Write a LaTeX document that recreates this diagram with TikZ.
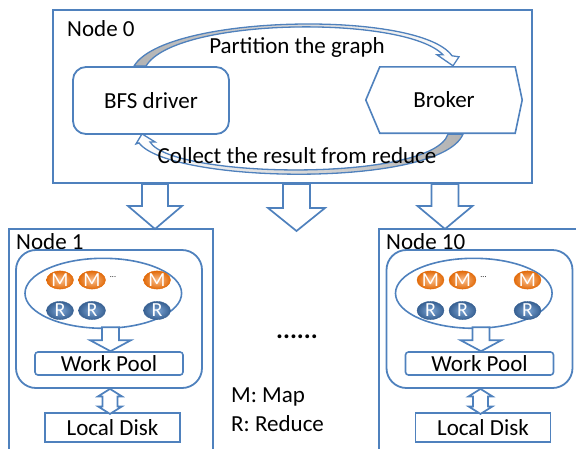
\documentclass[tikz,border=0pt]{standalone}
\usepackage{fontspec}
\setmainfont{Carlito}
\usetikzlibrary{shapes.geometric,positioning,calc}
\definecolor{boxblue}{RGB}{79,129,189}
\definecolor{mlight}{RGB}{250,190,140}
\definecolor{mdark}{RGB}{226,107,10}
\definecolor{rlight}{RGB}{125,165,212}
\definecolor{rdark}{RGB}{55,96,146}

\begin{document}
\begin{tikzpicture}[x=1pt,y=1pt,
  outer/.style={draw=boxblue, line width=2pt},
  roundbox/.style={draw=boxblue, line width=1.8pt, rounded corners=13pt},
  plainbox/.style={draw=boxblue, line width=1.6pt},
  band/.style={draw=boxblue, line width=1.3pt},
  blockline/.style={draw=boxblue, fill=white, line width=1.7pt, line join=miter},
  mjob/.style={ellipse, draw=mdark, inner color=mlight, outer color=mdark, minimum width=27, minimum height=16, text=white, font=\fontsize{20}{20}\selectfont},
  rjob/.style={ellipse, draw=rdark, inner color=rlight, outer color=rdark, minimum width=27, minimum height=16, text=white, font=\fontsize{20}{20}\selectfont}
]
\tikzstyle{every node}+=[inner sep=0pt, font=\fontsize{23}{27}\selectfont]
\useasboundingbox (0,0) rectangle (576,-448);
\clip (0,0) rectangle (576,-448);

% node 0
\node[outer, minimum width=479, minimum height=173] (n0) at (292.5,-96.5) {};
\node[anchor=west] (n0lbl) at (67,-29) {Node 0};
\node[roundbox, minimum width=156, minimum height=67] (bfs) at (151,-100.5) {BFS driver};
\node[minimum width=144, minimum height=66] (broker) at (444,-100) {Broker};
\draw[plainbox] ([xshift=-6pt]broker.west) -- ([xshift=8pt]broker.north west) -- ([xshift=-1pt]broker.north east)
  -- ([xshift=6pt]broker.east) -- ([xshift=-1pt]broker.south east) -- ([xshift=8pt]broker.south west) -- cycle;
\filldraw[band, left color=black!30, right color=white] ([xshift=-17pt]bfs.north) .. controls +(31,52) and +(-32,46) .. ($(broker.north)+(8,11)$)
  -- ($(broker.north)+(15,10)$) -- ($(broker.north)+(9,1)$) -- ($(broker.north)+(-7,12)$) -- ($(broker.north)+(-1,12)$)
  .. controls +(-38,40) and +(29,49) .. ([xshift=-5pt]bfs.north) -- cycle;
\filldraw[band, left color=white, right color=black!30] ($(broker.south)+(19,-1)$) .. controls +(-23,-54) and +(31,-41) .. ($(bfs.south)+(-12,-8)$)
  -- ($(bfs.south)+(-15,-9)$) -- ($(bfs.south)+(-9,1)$) -- ($(bfs.south)+(4,-7)$) -- ($(bfs.south)+(-1,-7)$)
  .. controls +(22,-37) and +(-16,-48) .. ($(broker.south)+(4,-1)$) -- cycle;
\node (part) at (297,-47) {Partition the graph};
\node (coll) at (297,-156) {Collect the result from reduce};

% arrows down from node 0
\draw[blockline] ([xshift=-150.5pt]n0.south) -- ++(0,-22) -- ++(-14,0) -- ++(27,-23) -- ++(27,23) -- ++(-14,0) -- ++(0,22) -- cycle;
\draw[blockline] ([xshift=-9.5pt]n0.south) -- ++(0,-24) -- ++(-15,0) -- ++(28.5,-23) -- ++(28.5,23) -- ++(-15,0) -- ++(0,24) -- cycle;
\draw[blockline] ([xshift=139pt]n0.south) -- ++(0,-22) -- ++(-14,0) -- ++(27.5,-23) -- ++(27.5,23) -- ++(-14,0) -- ++(0,22) -- cycle;

% node 1
\node[outer, minimum width=204, minimum height=240, anchor=north west] (n1) at (8,-228) {};
\node[anchor=west] (n1lbl) at (16,-242) {Node 1};
\node[roundbox, rounded corners=20pt, minimum width=186, minimum height=138] (grp1) at (109,-319) {};
\node[ellipse, draw=boxblue, line width=1.6pt, minimum width=156.6, minimum height=70] (jobs1) at (103.3,-293.3) {};
\node[mjob] (m11) at (60,-280) {M};
\node[mjob] (m12) at (92,-280) {M};
\node[font=\fontsize{8}{8}\selectfont] (dots1) at (113,-277) {...};
\node[mjob] (m13) at (157,-280) {M};
\node[rjob] (r11) at (60,-310.5) {R};
\node[rjob] (r12) at (92,-310.5) {R};
\node[rjob] (r13) at (157,-310.5) {R};
\node[plainbox, rounded corners=3pt, minimum width=148, minimum height=23] (pool1) at (109,-363.5) {Work Pool};
\node[plainbox, minimum width=135, minimum height=29] (disk1) at (112.5,-427.5) {Local Disk};
\draw[blockline] ($(pool1.north)+(-7,24)$) -- ++(0,-13) -- ++(-12,0) -- ++(20.5,-11) -- ++(20.5,11) -- ++(-12,0) -- ++(0,13) -- cycle;
\draw[blockline] ([xshift=1pt]grp1.south) -- ++(12,-7.5) -- ++(-4.5,0) -- ++(0,-10) -- ++(4.5,0) -- ++(-12,-7.5)
  -- ++(-12,7.5) -- ++(4.5,0) -- ++(0,10) -- ++(-4.5,0) -- cycle;

% node 10
\node[outer, minimum width=204, minimum height=240, anchor=north west] (n10) at (378,-228) {};
\node[anchor=west] (n10lbl) at (386,-242) {Node 10};
\node[roundbox, rounded corners=20pt, minimum width=186, minimum height=138] (grp10) at (479.5,-319) {};
\node[ellipse, draw=boxblue, line width=1.6pt, minimum width=156.6, minimum height=70] (jobs10) at (473.8,-293.3) {};
\node[mjob] (m101) at (430.5,-280) {M};
\node[mjob] (m102) at (462.5,-280) {M};
\node[font=\fontsize{8}{8}\selectfont] (dots10) at (483.5,-277) {...};
\node[mjob] (m103) at (527.5,-280) {M};
\node[rjob] (r101) at (430.5,-310.5) {R};
\node[rjob] (r102) at (462.5,-310.5) {R};
\node[rjob] (r103) at (527.5,-310.5) {R};
\node[plainbox, rounded corners=3pt, minimum width=148, minimum height=23] (pool10) at (479.5,-363.5) {Work Pool};
\node[plainbox, minimum width=135, minimum height=29] (disk10) at (483,-427.5) {Local Disk};
\draw[blockline] ($(pool10.north)+(-7,24)$) -- ++(0,-13) -- ++(-12,0) -- ++(20.5,-11) -- ++(20.5,11) -- ++(-12,0) -- ++(0,13) -- cycle;
\draw[blockline] ([xshift=1pt]grp10.south) -- ++(12,-7.5) -- ++(-4.5,0) -- ++(0,-10) -- ++(4.5,0) -- ++(-12,-7.5)
  -- ++(-12,7.5) -- ++(4.5,0) -- ++(0,10) -- ++(-4.5,0) -- cycle;

% middle
\node (more) at (297,-337) {\fontsize{26}{26}\selectfont\bfseries ......};
\node[anchor=west] (keym) at (231,-397) {M: Map};
\node[anchor=west] (keyr) at (231,-424) {R: Reduce};
\end{tikzpicture}
\end{document}
